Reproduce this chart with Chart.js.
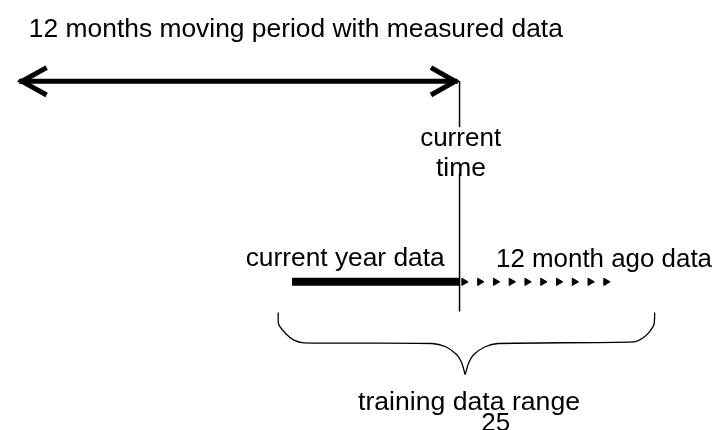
<!DOCTYPE html>
<html>
<head>
<meta charset="utf-8">
<script src="https://cdn.jsdelivr.net/npm/chart.js@4/dist/chart.umd.min.js"></script>
<style>
  html, body { margin: 0; padding: 0; background: #ffffff; }
  #wrap { width: 721px; height: 430px; position: relative; }
</style>
</head>
<body>
<div id="wrap"><canvas id="c"></canvas></div>
<script>
// ---- Diagram data (in diagram units; the x/y scales map 1 unit to 1 px) ----
const periodLine      = [{x: 14, y: 78}, {x: 459, y: 78}];
const leftHead        = [{x: 42, y: 64}, {x: 17, y: 78}, {x: 42, y: 92}];
const rightHead       = [{x: 432, y: 64}, {x: 456.5, y: 78}, {x: 432, y: 92}];
const currentTimeLine = [{x: 461, y: 78}, {x: 461, y: 314}];
const currentYearData = [{x: 291, y: 283.3}, {x: 461, y: 283.3}];
const monthAgoData    = [465.5, 481.5, 497.5, 513.5, 529.5, 545.5, 561.5, 577.5, 593.5, 609.5];
const monthAgoLevel   = 283.5;
const braceLeft  = [{x: 277, y: 315}, {x: 277.5, y: 327}, {x: 285, y: 337}, {x: 293, y: 343.3}, {x: 303, y: 346},
                    {x: 433, y: 346.7}, {x: 447, y: 350}, {x: 458, y: 358}, {x: 463, y: 366}, {x: 466.7, y: 378.5}];
const braceRight = [{x: 466.7, y: 378.5}, {x: 470.5, y: 366}, {x: 475.5, y: 358}, {x: 487, y: 350}, {x: 500, y: 346.7},
                    {x: 638, y: 345}, {x: 647, y: 341}, {x: 653.5, y: 335}, {x: 658.3, y: 327}, {x: 659, y: 315}];

// ---- Texts ----
const labels = [
  '12 months moving period with measured data',
  'current',
  'time',
  'current year data',
  '12 month ago data',
  'training data range',
  '25'
];
// [left, baseline, width] for each text
const labelBoxes = [
  [24, 32.3, 534],
  [421, 144.3, 81],
  [437, 175, 50],
  [244, 267.5, 199],
  [498, 268.5, 216],
  [358, 415, 222],
  [483, 436, 29]
];

const lineDs = (data, width, extra) => Object.assign({
  data, showLine: true, borderColor: '#000', backgroundColor: '#000',
  borderWidth: width, pointRadius: 0, pointHoverRadius: 0,
  borderCapStyle: 'butt', borderJoinStyle: 'miter', tension: 0, fill: false
}, extra || {});

const textPlugin = {
  id: 'diagramText',
  afterDatasetsDraw(chart) {
    const {ctx, scales: {x, y}} = chart;
    ctx.save();
    // white box behind "current time" label (interrupts the vertical line)
    ctx.fillStyle = '#ffffff';
    const bx0 = x.getPixelForValue(418), bx1 = x.getPixelForValue(505);
    const by0 = y.getPixelForValue(125), by1 = y.getPixelForValue(172.5);
    ctx.fillRect(bx0, by0, bx1 - bx0, by1 - by0);
    ctx.fillStyle = '#000000';
    ctx.font = '26px "Liberation Sans", Arial, sans-serif';
    ctx.textBaseline = 'alphabetic';
    ctx.textAlign = 'left';
    labels.forEach((t, i) => {
      const [lx, ly, w] = labelBoxes[i];
      const px = x.getPixelForValue(lx), py = y.getPixelForValue(ly);
      const mw = ctx.measureText(t).width;
      ctx.save();
      ctx.translate(px, py);
      ctx.scale(w / mw, 1);
      ctx.fillText(t, 0, 0);
      ctx.restore();
    });
    ctx.restore();
  }
};

new Chart(document.getElementById('c'), {
  type: 'scatter',
  data: {
    datasets: [
      lineDs(periodLine, 5),
      lineDs(leftHead, 5),
      lineDs(rightHead, 5),
      lineDs(currentTimeLine, 1.5),
      lineDs(currentYearData, 8),
      {
        data: monthAgoData.map(v => ({x: v, y: monthAgoLevel})),
        showLine: false, pointStyle: 'triangle', rotation: 90,
        pointRadius: 4.2, pointHoverRadius: 4.2, borderWidth: 1,
        borderColor: '#000', backgroundColor: '#000'
      },
      lineDs(braceLeft, 1.3, {tension: 0.25}),
      lineDs(braceRight, 1.3, {tension: 0.25})
    ]
  },
  options: {
    responsive: true,
    maintainAspectRatio: false,
    animation: false,
    devicePixelRatio: 1,
    layout: { padding: 0 },
    plugins: { legend: { display: false }, tooltip: { enabled: false } },
    events: [],
    scales: {
      x: { type: 'linear', min: 0, max: 721, display: false },
      y: { type: 'linear', min: 0, max: 430, reverse: true, display: false }
    }
  },
  plugins: [textPlugin]
});
</script>
</body>
</html>
